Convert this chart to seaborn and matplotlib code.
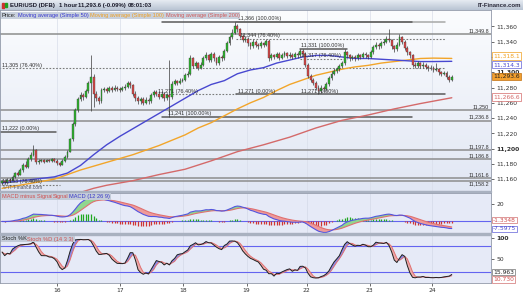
import numpy as np
import pandas as pd
import matplotlib
matplotlib.use("Agg")
import matplotlib.pyplot as plt
from matplotlib.patches import Rectangle
from matplotlib.colors import LinearSegmentedColormap
import seaborn as sns

# ---------------- data (EUR/USD DFB, 1 hour candles) ----------------
FIRST_OPEN = 11155
CLOSE = [11157, 11156, 11159, 11158, 11163, 11168, 11166, 11172, 11178, 11176,
         11186, 11192, 11198, 11182, 11184, 11185, 11183, 11185, 11184, 11186,
         11184, 11181, 11179, 11184, 11189, 11196, 11212, 11232, 11250, 11265,
         11270, 11268, 11275, 11286, 11294, 11272, 11266, 11262, 11277, 11278,
         11276, 11279, 11277, 11280, 11278, 11277, 11279, 11281, 11286, 11283,
         11272, 11266, 11262, 11265, 11260, 11264, 11262, 11270, 11274, 11272,
         11268, 11272, 11266, 11270, 11267, 11285, 11288, 11286, 11289, 11290,
         11296, 11298, 11318, 11308, 11312, 11306, 11310, 11318, 11322, 11316,
         11324, 11318, 11312, 11320, 11318, 11328, 11338, 11346, 11352, 11360,
         11356, 11348, 11342, 11344, 11338, 11334, 11340, 11336, 11334, 11338,
         11336, 11341, 11318, 11322, 11320, 11324, 11319, 11322, 11325, 11321,
         11323, 11320, 11324, 11322, 11328, 11324, 11310, 11295, 11290, 11286,
         11280, 11276, 11280, 11278, 11284, 11292, 11298, 11302, 11304, 11308,
         11312, 11326, 11322, 11318, 11320, 11318, 11322, 11320, 11324, 11322,
         11320, 11326, 11333, 11336, 11334, 11338, 11340, 11344, 11342, 11334,
         11330, 11336, 11346, 11340, 11332, 11326, 11322, 11310, 11308, 11312,
         11308, 11310, 11307, 11305, 11306, 11303, 11304, 11300, 11298, 11299,
         11294, 11290, 11293.6]
HIGH = [11159, 11159, 11161, 11161, 11165, 11170, 11171, 11174, 11181, 11184,
        11189, 11195, 11205, 11200, 11186, 11187, 11187, 11187, 11187, 11188,
        11188, 11186, 11183, 11186, 11191, 11198, 11214, 11235, 11253, 11268,
        11274, 11273, 11278, 11289, 11322, 11298, 11275, 11269, 11280, 11281,
        11281, 11282, 11282, 11283, 11282, 11281, 11282, 11284, 11289, 11288,
        11285, 11275, 11269, 11268, 11267, 11267, 11266, 11273, 11277, 11277,
        11275, 11275, 11274, 11273, 11316, 11288, 11291, 11290, 11292, 11293,
        11299, 11301, 11322, 11320, 11315, 11314, 11313, 11321, 11326, 11324,
        11327, 11326, 11320, 11323, 11322, 11331, 11341, 11349, 11356, 11366,
        11363, 11358, 11350, 11347, 11346, 11340, 11343, 11342, 11338, 11341,
        11340, 11344, 11343, 11325, 11324, 11327, 11326, 11325, 11328, 11327,
        11326, 11325, 11327, 11326, 11331, 11330, 11326, 11312, 11298, 11293,
        11288, 11283, 11283, 11282, 11287, 11295, 11301, 11305, 11307, 11311,
        11315, 11330, 11328, 11324, 11323, 11322, 11325, 11324, 11327, 11326,
        11324, 11329, 11336, 11339, 11338, 11341, 11343, 11347, 11356, 11344,
        11336, 11339, 11350, 11348, 11342, 11334, 11328, 11324, 11313, 11315,
        11314, 11313, 11312, 11309, 11309, 11308, 11312, 11306, 11302, 11302,
        11301, 11296, 11296]
LOW = [11153, 11154, 11154, 11156, 11157, 11161, 11164, 11165, 11170, 11174,
       11175, 11184, 11190, 11180, 11180, 11182, 11181, 11182, 11182, 11183,
       11182, 11179, 11177, 11178, 11183, 11188, 11195, 11210, 11230, 11248,
       11262, 11264, 11266, 11273, 11249, 11255, 11263, 11259, 11260, 11274,
       11273, 11274, 11274, 11275, 11275, 11274, 11275, 11277, 11279, 11280,
       11269, 11263, 11258, 11259, 11257, 11258, 11259, 11260, 11268, 11269,
       11265, 11266, 11263, 11264, 11241, 11265, 11283, 11283, 11284, 11287,
       11288, 11294, 11296, 11305, 11306, 11303, 11304, 11308, 11316, 11313,
       11314, 11315, 11309, 11310, 11315, 11316, 11326, 11336, 11344, 11350,
       11353, 11345, 11339, 11340, 11335, 11331, 11332, 11333, 11331, 11332,
       11333, 11334, 11315, 11316, 11317, 11318, 11316, 11317, 11320, 11318,
       11319, 11317, 11318, 11319, 11320, 11321, 11307, 11292, 11287, 11283,
       11277, 11271, 11273, 11274, 11276, 11282, 11290, 11296, 11299, 11302,
       11306, 11310, 11319, 11315, 11316, 11315, 11316, 11317, 11318, 11319,
       11317, 11318, 11324, 11331, 11331, 11332, 11336, 11338, 11339, 11331,
       11327, 11328, 11334, 11337, 11329, 11323, 11319, 11307, 11305, 11306,
       11305, 11306, 11304, 11302, 11303, 11300, 11301, 11297, 11295, 11296,
       11291, 11287, 11288]

# moving averages (candle index, value)
MA50_IDX = [0, 10, 20, 25, 30, 35, 40, 45, 50, 55, 60, 65, 70, 75, 80, 85, 90, 95,
            100, 105, 110, 115, 120, 125, 130, 135, 140, 145, 150, 155, 160, 165, 172]
MA50 = [11155, 11159, 11163, 11168, 11178, 11192, 11205, 11216, 11226, 11236, 11246,
        11256, 11266, 11276, 11284, 11289, 11298, 11303, 11306, 11312, 11316, 11320,
        11322, 11322, 11320, 11318, 11318, 11317, 11316, 11315, 11314, 11314, 11314.3]
MA100_IDX = [0, 10, 20, 25, 30, 40, 50, 55, 60, 65, 70, 75, 80, 85, 90, 95, 100,
             105, 110, 115, 120, 125, 130, 135, 140, 145, 150, 155, 160, 165, 172]
MA100 = [11148, 11154, 11160, 11166, 11172, 11182, 11192, 11198, 11204, 11211, 11218,
         11227, 11234, 11243, 11252, 11260, 11267, 11276, 11284, 11290, 11296, 11300,
         11304, 11307, 11309, 11312, 11314, 11316, 11318, 11318.5, 11318.1]
MA200_IDX = [0, 20, 35, 40, 50, 60, 70, 80, 90, 100, 110, 120, 130, 140, 150, 160, 172]
MA200 = [11120, 11132, 11148, 11152, 11158, 11166, 11173, 11184, 11196, 11205, 11215,
         11227, 11237, 11244, 11252, 11259, 11266.6]

DAY_POS = [20.9, 45.2, 69.3, 93.5, 116.5, 140.6, 164.4]
DAY_LABELS = ["16", "17", "18", "19", "22", "23", "24"]
PRICE_TICKS = [11160, 11180, 11200, 11220, 11240, 11260, 11280, 11300, 11320, 11340, 11360]

# horizontal support / resistance levels across the whole chart
LEVELS = [11349.8, 11250, 11236.8, 11197.8, 11186.8, 11161.6, 11158.2]
LEVEL_LABELS = ["11,349.8", "11,250", "11,236.8", "11,197.8", "11,186.8", "11,161.6", "11,158.2"]

# Fibonacci retracement segments
FIB_PRICE = [11366, 11366, 11344, 11331, 11317, 11305, 11271, 11271, 11241, 11222, 11153]
FIB_START = [89.5, 61.3, 89.5, 113.8, 113.8, -1, 61.3, 89.5, 61.3, -1, -1]
FIB_END = [169.3, 156.7, 169.3, 131.8, 131.8, 169.3, 89.5, 169.3, 156.7, 20.7, 22]
FIB_KIND = ["light", "solid", "dotted", "solid", "dotted", "dotted", "dotted", "solid",
            "solid", "solid", "dotted"]
FIB_TEXT = ["11,366 (100.00%)", "11,344 (76.40%)", "11,331 (100.00%)", "11,317 (76.40%)",
            "11,305 (76.40%)", "11,271 (76.40%)", "11,271 (0.00%)", "11,271 (0.00%)",
            "11,241 (100.00%)", "11,222 (0.00%)", "11,153 (76.40%)"]
FIB_TEXT_AT = [(90.3, 11366), (91.0, 11344), (114.5, 11331), (114.5, 11317), (0, 11305),
               (59.8, 11271), (90.3, 11271), (114.5, 11271), (63.5, 11241), (0, 11222),
               (0, 11153)]

# ---------------- indicators derived from the price data ----------------
close = pd.Series(CLOSE, dtype=float)
opens = pd.Series([FIRST_OPEN] + CLOSE[:-1], dtype=float)
idx = np.arange(len(CLOSE))
ema12 = close.ewm(span=12, adjust=False).mean()
ema26 = close.ewm(span=26, adjust=False).mean()
macd = (ema12 - ema26).values
signal = pd.Series(macd).ewm(span=9, adjust=False).mean().values
hist = macd - signal
hh = pd.Series(HIGH, dtype=float).rolling(14, min_periods=1).max()
ll = pd.Series(LOW, dtype=float).rolling(14, min_periods=1).min()
fastk = 100 * (close - ll) / (hh - ll)
slowk = fastk.rolling(3, min_periods=1).mean().values
slowd = pd.Series(slowk).rolling(3, min_periods=1).mean().values

# ---------------- figure ----------------
sns.set_theme(style="white")
plt.rcParams['font.family'] = ['DejaVu Sans']
LS = ['Liberation Sans', 'DejaVu Sans']
W, H = 523, 296
fig = plt.figure(figsize=(W / 100, H / 100), dpi=100)
fig.patch.set_facecolor("white")


def frect(x0, y0, x1, y1):
    return [x0 / W, 1 - y1 / H, (x1 - x0) / W, (y1 - y0) / H]


def ptext(x, y, s, **kw):
    return fig.text(x / W, 1 - y / H, s, **kw)


XL = (-0.8, 187.0)
TXT = 4.3
SP = "#9098a8"

# title bar
axt = fig.add_axes(frect(0, 0, 523, 10))
grad = np.linspace(0, 1, 50).reshape(-1, 1)
axt.imshow(grad, aspect="auto", cmap=LinearSegmentedColormap.from_list("t", ["#e6ebf2", "#b9c4d3"]),
           extent=[0, 1, 0, 1])
axt.set_axis_off()
for xx, s in [(10, "EUR/USD (DFB)"), (59, "1 hour"), (78, "11,293.6 (-0.09%)"), (128, "08:01:03")]:
    ptext(xx, 5.3, s, fontsize=4.3, fontweight="bold", va="center", color="#1a1a2a", family=LS)
ptext(521, 5.3, "IT-Finance.com", fontsize=4.3, fontweight="bold", va="center", ha="right",
      color="#2a2a3a", family=LS)
fig.patches.append(Rectangle((2 / W, 1 - 8 / H), 2 / W, 5 / H, transform=fig.transFigure, color="#d03030"))
fig.patches.append(Rectangle((5 / W, 1 - 7 / H), 2 / W, 4 / H, transform=fig.transFigure, color="#20a020"))

# ---------------- main price panel ----------------
ax = fig.add_axes(frect(0, 10, 491, 191))
ax.set_xlim(*XL)
ax.set_ylim(11144.5, 11381.5)
bg = np.linspace(1, 0, 100).reshape(-1, 1)
ax.imshow(bg, aspect="auto", cmap=LinearSegmentedColormap.from_list("b", ["#e1e7f4", "#fbfcfe"]),
          extent=[XL[0], XL[1], 11144.5, 11381.5], zorder=0)
for d in DAY_POS:
    ax.axvline(d, color="#d9deea", lw=0.5, zorder=0.5)

for p in LEVELS:
    ax.axhline(p, color="#8d8d8d", lw=1.1, zorder=1)
for p, s in zip(LEVELS, LEVEL_LABELS):
    below = s == "11,158.2"
    ax.annotate(s, xy=(1, p), xycoords=("axes fraction", "data"),
                xytext=(-1.5, -0.6 if below else 0.6),
                textcoords="offset points", ha="right", va="top" if below else "bottom",
                fontsize=3.9, color="#303030", family=LS)

for p, a, b, k in zip(FIB_PRICE, FIB_START, FIB_END, FIB_KIND):
    if k == "solid":
        ax.plot([a, b], [p, p], color="#5a5a5a", lw=1.1, zorder=1.2)
    elif k == "light":
        ax.plot([a, b], [p, p], color="#a8a8a8", lw=1.1, zorder=1.1)
    else:
        ax.plot([a, b], [p, p], color="#7a7a7a", lw=0.8, ls=(0, (1.5, 1.5)), zorder=1.2)
for s, (xa, p) in zip(FIB_TEXT, FIB_TEXT_AT):
    ax.annotate(s, xy=(xa, p), xytext=(0, 0.6), textcoords="offset points", ha="left",
                va="bottom", fontsize=3.9, color="#303030", zorder=5, family=LS)

# moving averages
sns.lineplot(x=MA200_IDX, y=MA200, ax=ax, color="#d46a6a", lw=1.0, zorder=2, legend=False)
sns.lineplot(x=MA100_IDX, y=MA100, ax=ax, color="#f2a52a", lw=1.0, zorder=2, legend=False)
sns.lineplot(x=MA50_IDX, y=MA50, ax=ax, color="#4848d0", lw=1.0, zorder=2, legend=False)

# candles
up = close.values >= opens.values
ax.vlines(idx, LOW, HIGH, color="#3a3a3a", lw=0.5, zorder=3)
body_h = np.where(np.abs(close - opens) < 0.6, 0.6, close - opens)
ax.bar(idx, body_h, bottom=opens, width=0.72,
       color=np.where(up, "#2fb52f", "#d94848"), edgecolor="#333333", linewidth=0.25, zorder=4)

ax.yaxis.tick_right()
ax.set_yticks(PRICE_TICKS)
ax.set_yticklabels(["" if v == 11320 else f"{v:,}" for v in PRICE_TICKS])
for t, v in zip(ax.get_yticklabels(), PRICE_TICKS):
    if v % 100 == 0:
        t.set_fontweight("bold")
ax.tick_params(axis="y", right=True, length=2, width=0.5, pad=2, labelsize=TXT, colors="#303030")
ax.set_xticks([])
ax.set_xlabel("")
ax.set_ylabel("")
for s in ax.spines.values():
    s.set_color(SP)
    s.set_linewidth(0.6)

# price legend row
lx = 2
for s, c in [("Price:", "#202020"), ("Moving average (Simple 50)", "#3838d0"),
             ("Moving average (Simple 100)", "#f0a020"), ("Moving average (Simple 200)", "#d05a5a")]:
    t = ptext(lx, 15.5, s, fontsize=4.1, va="center", color=c, family=LS,
              bbox=dict(boxstyle="square,pad=0.15", fc="#c9d1dd", ec="none"))
    fig.canvas.draw()
    bb = t.get_window_extent()
    lx += bb.width + 1.5
ptext(3, 187.6, "© IT-Finance.com", fontsize=3.5, va="center", color="#505060", family=LS)

# right boxes for current values
def box(y, s, fc, ec, tc, bold=False):
    ptext(493, y, s, fontsize=TXT, va="center", ha="left", color=tc,
          fontweight="bold" if bold else "normal",
          bbox=dict(boxstyle="square,pad=0.2", fc=fc, ec=ec, lw=0.5))

box(56.0, f"{MA100[-1]:,.1f}", "white", "#f0a020", "#f0a020")
box(64.8, f"{MA50[-1]:,.1f}", "white", "#6060d8", "#4848d0")
box(76.5, f"{CLOSE[-1]:,.1f}", "#f2a030", "#c07010", "#202020")
box(97, f"{MA200[-1]:,.1f}", "white", "#d46a6a", "#d46a6a")

# separators
for yy in (191, 233.5):
    fig.patches.append(Rectangle((0, 1 - (yy + 1.2) / H), 491 / W, 1.6 / H,
                                 transform=fig.transFigure, color="#a9b1c0", zorder=10))

# ---------------- MACD panel ----------------
am = fig.add_axes(frect(0, 192.5, 491, 233.5))
am.set_facecolor("#e6eaf7")
am.set_xlim(*XL)
am.set_ylim(-13.6, 32.8)
for d in DAY_POS:
    am.axvline(d, color="#d4d9e8", lw=0.5, zorder=0.5)
am.axhline(0, color="#6464f0", lw=0.8, zorder=1)
am.vlines(idx, 0, hist, colors=np.where(hist >= 0, "#20a820", "#d03434"), lw=0.9, zorder=2)
am.fill_between(idx, macd, signal, where=macd >= signal, interpolate=True, color="#8fd68f", lw=0, zorder=2.5)
am.fill_between(idx, macd, signal, where=macd < signal, interpolate=True, color="#ee9a9a", lw=0, zorder=2.5)
sns.lineplot(x=idx, y=signal, ax=am, color="#e07070", lw=0.8, zorder=3, legend=False)
sns.lineplot(x=idx, y=macd, ax=am, color="#5454e0", lw=0.8, zorder=3, legend=False)
am.yaxis.tick_right()
am.set_yticks([20])
am.set_yticklabels(["20"])
am.tick_params(axis="y", right=True, length=2, width=0.5, pad=2, labelsize=TXT, colors="#303030")
am.set_xticks([])
am.set_xlabel("")
am.set_ylabel("")
for s in am.spines.values():
    s.set_color(SP)
    s.set_linewidth(0.6)
lx = 2
for s, c in [("MACD minus Signal", "#d05050"), ("Signal", "#d05050"), ("MACD (12 26 9)", "#3838c8")]:
    t = ptext(lx, 196.5, s, fontsize=4.1, va="center", color=c, family=LS,
              bbox=dict(boxstyle="square,pad=0.15", fc="#c3cbd8", ec="none"), zorder=11)
    fig.canvas.draw()
    lx += t.get_window_extent().width + 0.5
ptext(493, 220, "-1.3348", fontsize=TXT, va="center", color="#d05050",
      bbox=dict(boxstyle="square,pad=0.15", fc="white", ec="#d07070", lw=0.5))
ptext(493, 229, "-7.5975", fontsize=TXT, va="center", color="#4848d0",
      bbox=dict(boxstyle="square,pad=0.15", fc="white", ec="#6060d8", lw=0.5))

# ---------------- Stochastic panel ----------------
ast = fig.add_axes(frect(0, 234.5, 491, 283))
ast.set_facecolor("#e6eaf7")
ast.set_xlim(*XL)
ast.set_ylim(-5.4, 107.7)
for d in DAY_POS:
    ast.axvline(d, color="#d4d9e8", lw=0.5, zorder=0.5)
ast.axhline(80, color="#6464f0", lw=0.8, zorder=1)
ast.axhline(20, color="#6464f0", lw=0.8, zorder=1)
ast.fill_between(idx, slowk, slowd, where=slowk >= slowd, interpolate=True, color="#8a8ae6", lw=0, zorder=2)
ast.fill_between(idx, slowk, slowd, where=slowk < slowd, interpolate=True, color="#eeaaaa", lw=0, zorder=2)
sns.lineplot(x=idx, y=slowd, ax=ast, color="#e07070", lw=0.7, zorder=3, legend=False)
sns.lineplot(x=idx, y=slowk, ax=ast, color="#202020", lw=0.7, zorder=3, legend=False)
ast.yaxis.tick_right()
ast.set_yticks([100, 50])
ast.set_yticklabels(["100", "50"])
ast.get_yticklabels()[0].set_fontweight("bold")
ast.tick_params(axis="y", right=True, length=2, width=0.5, pad=2, labelsize=TXT, colors="#303030")
ast.set_xticks(DAY_POS)
ast.set_xticklabels(DAY_LABELS)
ast.tick_params(axis="x", bottom=True, length=2, width=0.5, pad=1.5, labelsize=TXT, colors="#303030")
ast.set_xlabel("")
ast.set_ylabel("")
for s in ast.spines.values():
    s.set_color(SP)
    s.set_linewidth(0.6)
lx = 2
for s, c in [("Stoch %K", "#202020"), ("Stoch %D (14 3 3)", "#d05050")]:
    t = ptext(lx, 239, s, fontsize=4.1, va="center", color=c, family=LS,
              bbox=dict(boxstyle="square,pad=0.15", fc="#c3cbd8", ec="none"), zorder=11)
    fig.canvas.draw()
    lx += t.get_window_extent().width + 0.5
ptext(493, 272, "15.963", fontsize=TXT, va="center", color="#202020",
      bbox=dict(boxstyle="square,pad=0.15", fc="white", ec="#707070", lw=0.5))
ptext(493, 279.5, "10.730", fontsize=TXT, va="center", color="#d05050",
      bbox=dict(boxstyle="square,pad=0.15", fc="white", ec="#d07070", lw=0.5))

fig.savefig("out.png", dpi=100)
